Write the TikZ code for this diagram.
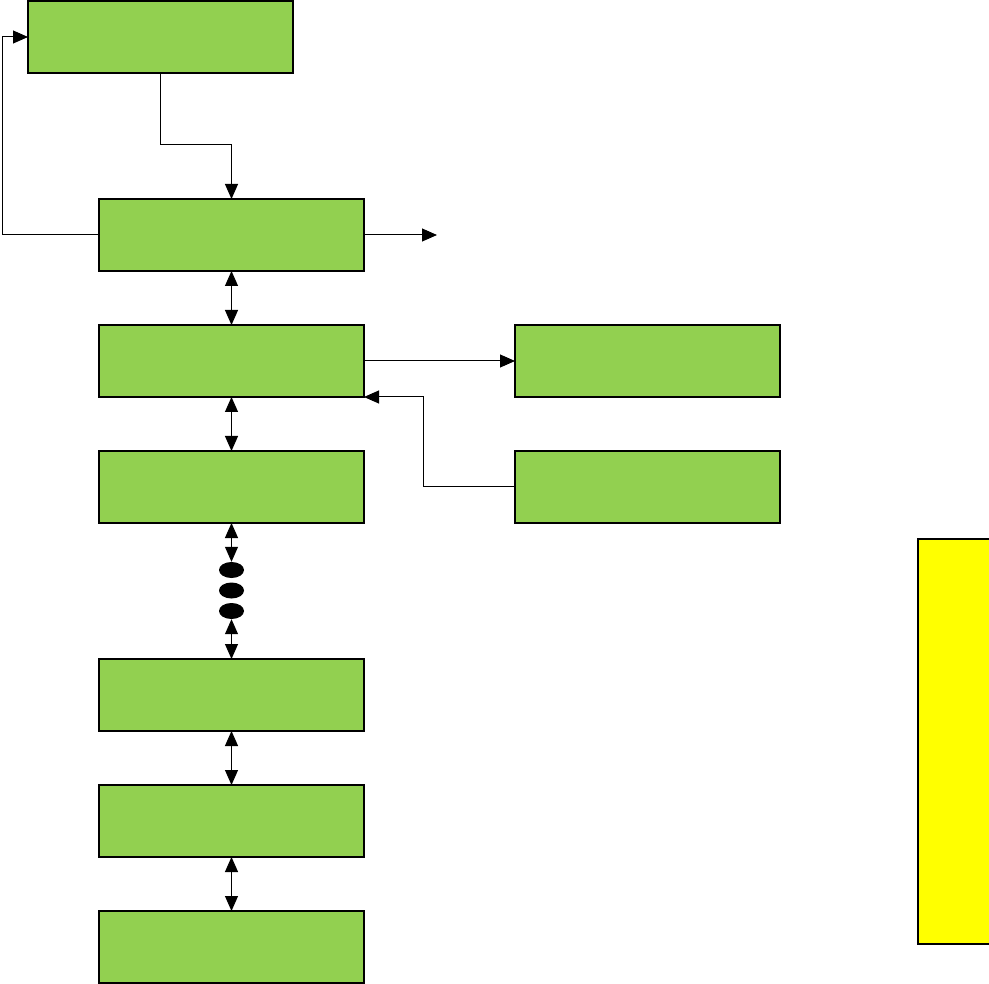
\documentclass[tikz,border=0pt]{standalone}
\usetikzlibrary{arrows.meta,shapes.geometric}
\definecolor{boxgreen}{RGB}{146,208,80}
\definecolor{boxyellow}{RGB}{255,255,0}
\begin{document}
\begin{tikzpicture}[x=1pt,y=-1pt,
  gbox/.style={draw=black,line width=2pt,fill=boxgreen,minimum width=265pt,minimum height=72pt,inner sep=0pt,outer sep=0pt},
  conn/.style={line width=1pt,-{Triangle[length=15pt,width=13pt]}},
  dconn/.style={line width=1pt,{Triangle[length=15pt,width=13pt]}-{Triangle[length=15pt,width=13pt]}},
  dotell/.style={ellipse,fill=black,minimum width=25pt,minimum height=16pt,inner sep=0pt}]
\useasboundingbox (0,0) rectangle (989,984);
\clip (0,0) rectangle (989,984);
\node[gbox] (top) at (160.5,37) {};
\node[gbox] (b2) at (231.5,235) {};
\node[gbox] (b3) at (231.5,361) {};
\node[gbox] (b4) at (231.5,487) {};
\node[gbox] (b5) at (231.5,695) {};
\node[gbox] (b6) at (231.5,821) {};
\node[gbox] (b7) at (231.5,947) {};
\node[gbox] (r1) at (647.5,361) {};
\node[gbox] (r2) at (647.5,487) {};
\node[draw=black,line width=2pt,fill=boxyellow,minimum width=80pt,minimum height=405pt,inner sep=0pt,anchor=north west] (ybox) at (917,538) {};
\node[dotell] (d1) at (231.5,570) {};
\node[dotell] (d2) at (231.5,590.5) {};
\node[dotell] (d3) at (231.5,611) {};
\coordinate (out) at (437,235);
\draw[conn] (top.south -| 160,0) -- (160,145) -- (231.5,145) -- (b2.north);
\draw[conn] (b2.west) -- (2,235) -- (2,37) -- (top.west);
\draw[conn] (b2.east) -- (out);
\draw[dconn] (b2.south) -- (b3.north);
\draw[conn] (b3.east) -- (r1.west);
\draw[conn] (r2.west) -- (423,487) -- (423,397) -- (b3.south east);
\draw[dconn] (b3.south) -- (b4.north);
\draw[dconn] (b4.south) -- (d1.north);
\draw[dconn] (d3.south) -- (b5.north);
\draw[dconn] (b5.south) -- (b6.north);
\draw[dconn] (b6.south) -- (b7.north);
\end{tikzpicture}
\end{document}
